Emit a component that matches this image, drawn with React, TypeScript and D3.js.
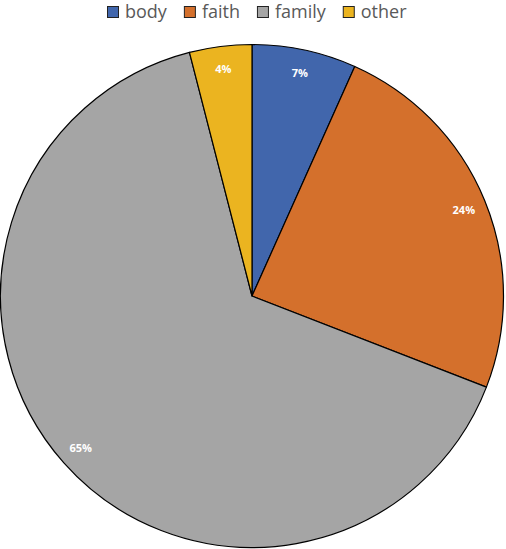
import React, { useEffect, useRef } from "react";
import * as d3 from "d3";

const categories = ["body", "faith", "family", "other"];
const values = [6.7, 24.2, 65.1, 4.0];
const colors = ["#4166AC", "#D4702C", "#A5A5A5", "#EBB420"];

const W = 506;
const H = 549;

export default function App() {
  const ref = useRef<SVGSVGElement>(null);
  useEffect(() => {
    const svg = d3.select(ref.current);
    svg.selectAll("*").remove();
    const cx = 252, cy = 296, r = 251.5;
    const total = d3.sum(values);
    const data = categories.map((c, i) => ({ c, v: values[i], col: colors[i] }));
    const pie = d3.pie<any>().value((d) => d.v).sort(null).startAngle(0).endAngle(2 * Math.PI);
    const arcs = pie(data);
    const arc = d3.arc<any>().innerRadius(0).outerRadius(r);
    const g = svg.append("g").attr("transform", `translate(${cx},${cy})`);
    g.selectAll("path").data(arcs).enter().append("path")
      .attr("d", arc as any)
      .attr("fill", (d: any) => d.data.col)
      .attr("stroke", "#000")
      .attr("stroke-width", 1.2)
      .attr("stroke-linejoin", "round");
    const lr = 229;
    g.selectAll("text.lbl").data(arcs).enter().append("text")
      .attr("class", "lbl")
      .attr("x", (d: any) => Math.sin((d.startAngle + d.endAngle) / 2) * lr)
      .attr("y", (d: any) => -Math.cos((d.startAngle + d.endAngle) / 2) * lr)
      .attr("text-anchor", "middle")
      .attr("dominant-baseline", "central")
      .attr("fill", "#fff")
      .attr("font-family", "'Open Sans', sans-serif")
      .attr("font-weight", "bold")
      .attr("font-size", 11)
      .text((d: any) => `${Math.round((d.data.v / total) * 100)}%`);

    // legend
    const lg = svg.append("g");
    let x = 107;
    data.forEach((d) => {
      lg.append("rect")
        .attr("x", x + 0.5).attr("y", 6.5).attr("width", 11).attr("height", 11)
        .attr("fill", d.col).attr("stroke", "#222").attr("stroke-width", 1);
      const t = lg.append("text")
        .attr("x", x + 18).attr("y", 18)
        .attr("fill", "#595959")
        .attr("font-family", "'Open Sans', sans-serif")
        .attr("font-size", 18)
        .text(d.c);
      const w = (t.node() as SVGTextElement).getComputedTextLength();
      x = x + 18 + w + 17;
    });
  }, []);
  return (
    <svg ref={ref} width={W} height={H}
      style={{ position: "absolute", left: 0, top: 0, background: "#fff" }} />
  );
}
